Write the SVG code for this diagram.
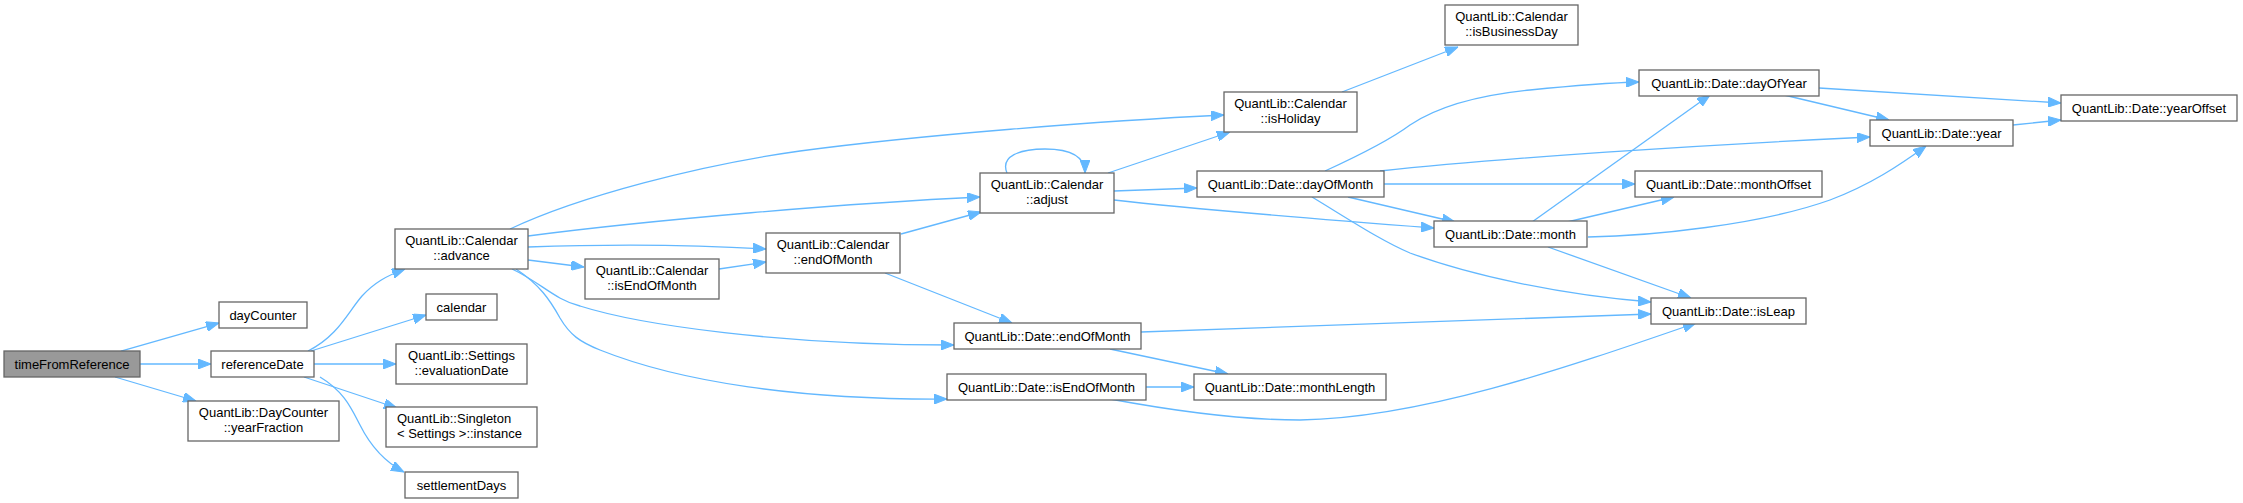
<svg xmlns="http://www.w3.org/2000/svg" width="2243" height="503" viewBox="0 0 2243 503">
<style>
.n rect{fill:#ffffff;stroke:#666666;stroke-width:1.3}
.root rect{fill:#999999}
.n text{font-family:"Liberation Sans",Arial,sans-serif;font-size:13px;fill:#000000;text-anchor:middle}
.n text.l{text-anchor:start}
#edges path{fill:none;stroke:#63b8ff;stroke-width:1.3;marker-end:url(#ah)}
</style>
<defs>
<marker id="ah" markerUnits="userSpaceOnUse" markerWidth="13" markerHeight="10" viewBox="0 0 13 10" refX="13" refY="5" orient="auto">
<path d="M0,0 L13,5 L0,10 z" fill="#63b8ff" stroke="#63b8ff" stroke-width="1"/>
</marker>
</defs>
<rect width="2243" height="503" fill="#ffffff"/>
<g id="edges">
<path d="M121,351 L219,323"/>
<path d="M140,364 L211,364"/>
<path d="M115,377 L196,401"/>
<path d="M308,351 C338,336 348,312 362,296 C374,283 386,276 405,269"/>
<path d="M311,351 L426,315"/>
<path d="M314,364 L396,364"/>
<path d="M304,377 L397,408"/>
<path d="M320,377 C345,392 352,410 360,425 C370,445 385,462 404,472"/>
<path d="M510,229 C580,196 700,165 800,151 C920,135 1100,121 1224,115"/>
<path d="M528,236 C650,220 850,203 980,197"/>
<path d="M528,247 C610,244 700,245 766,249"/>
<path d="M528,260 L584,267"/>
<path d="M719,269 L766,262"/>
<path d="M901,234 L981,212"/>
<path d="M512,269 C540,282 555,300 580,306 C640,325 780,345 954,345"/>
<path d="M516,269 C540,285 550,300 560,318 C570,335 580,342 600,350 C680,382 800,400 947,399"/>
<path d="M885,273 L1012,323"/>
<path d="M1110,349 L1228,374"/>
<path d="M1146,387 L1194,387"/>
<path d="M1141,332 L1651,314"/>
<path d="M1110,399 C1180,412 1240,420 1300,420 C1420,418 1560,370 1696,323"/>
<path d="M1007,173 C1000,156 1020,149 1045,149 C1070,149 1085,156 1085,173"/>
<path d="M1108,173 L1230,132"/>
<path d="M1114,191 L1197,188"/>
<path d="M1114,200 C1200,210 1330,220 1434,228"/>
<path d="M1342,92 L1458,47"/>
<path d="M1325,171 C1360,155 1390,140 1410,125 C1440,105 1480,95 1530,90 C1570,86 1600,83 1639,82"/>
<path d="M1380,171 C1500,158 1700,145 1870,137"/>
<path d="M1384,184 L1635,184"/>
<path d="M1348,197 L1455,222"/>
<path d="M1312,197 C1350,220 1380,240 1410,253 C1470,275 1560,295 1651,302"/>
<path d="M1532,222 L1710,95"/>
<path d="M1567,222 L1674,197"/>
<path d="M1588,237 C1650,236 1760,225 1830,200 C1870,185 1900,165 1926,146"/>
<path d="M1548,247 L1691,298"/>
<path d="M1819,88 L2061,103"/>
<path d="M1784,95 L1889,120"/>
<path d="M2013,125 L2061,120"/>
</g>
<g id="n_timeFromReference" class="n root"><rect x="4" y="351" width="136" height="26"/><text x="72" y="368.5">timeFromReference</text></g>
<g id="n_dayCounter" class="n"><rect x="219" y="302" width="88" height="26"/><text x="263" y="319.5">dayCounter</text></g>
<g id="n_referenceDate" class="n"><rect x="211" y="351" width="103" height="26"/><text x="262.5" y="368.5">referenceDate</text></g>
<g id="n_yearFraction" class="n"><rect x="188" y="401" width="151" height="40"/><text x="263.5" y="417">QuantLib::DayCounter</text><text x="263.5" y="432">::yearFraction</text></g>
<g id="n_advance" class="n"><rect x="395" y="229" width="133" height="40"/><text x="461.5" y="245">QuantLib::Calendar</text><text x="461.5" y="260">::advance</text></g>
<g id="n_calendar" class="n"><rect x="426" y="294" width="71" height="26"/><text x="461.5" y="311.5">calendar</text></g>
<g id="n_evaluationDate" class="n"><rect x="396" y="344" width="131" height="40"/><text x="461.5" y="360">QuantLib::Settings</text><text x="461.5" y="375">::evaluationDate</text></g>
<g id="n_instance" class="n"><rect x="386" y="407" width="151" height="40"/><text class="l" x="397" y="423">QuantLib::Singleton</text><text class="l" x="397" y="438">&lt; Settings &gt;::instance</text></g>
<g id="n_settlementDays" class="n"><rect x="405" y="472" width="113" height="26"/><text x="461.5" y="489.5">settlementDays</text></g>
<g id="n_calIsEndOfMonth" class="n"><rect x="585" y="259" width="134" height="40"/><text x="652" y="275">QuantLib::Calendar</text><text x="652" y="290">::isEndOfMonth</text></g>
<g id="n_calEndOfMonth" class="n"><rect x="766" y="233" width="134" height="40"/><text x="833" y="249">QuantLib::Calendar</text><text x="833" y="264">::endOfMonth</text></g>
<g id="n_adjust" class="n"><rect x="980" y="173" width="134" height="40"/><text x="1047" y="189">QuantLib::Calendar</text><text x="1047" y="204">::adjust</text></g>
<g id="n_dateEndOfMonth" class="n"><rect x="954" y="323" width="187" height="26"/><text x="1047.5" y="340.5">QuantLib::Date::endOfMonth</text></g>
<g id="n_dateIsEndOfMonth" class="n"><rect x="947" y="374" width="199" height="26"/><text x="1046.5" y="391.5">QuantLib::Date::isEndOfMonth</text></g>
<g id="n_isHoliday" class="n"><rect x="1224" y="92" width="133" height="40"/><text x="1290.5" y="108">QuantLib::Calendar</text><text x="1290.5" y="123">::isHoliday</text></g>
<g id="n_dayOfMonth" class="n"><rect x="1197" y="171" width="187" height="26"/><text x="1290.5" y="188.5">QuantLib::Date::dayOfMonth</text></g>
<g id="n_monthLength" class="n"><rect x="1194" y="374" width="192" height="26"/><text x="1290" y="391.5">QuantLib::Date::monthLength</text></g>
<g id="n_isBusinessDay" class="n"><rect x="1445" y="5" width="133" height="40"/><text x="1511.5" y="21">QuantLib::Calendar</text><text x="1511.5" y="36">::isBusinessDay</text></g>
<g id="n_month" class="n"><rect x="1434" y="221" width="153" height="26"/><text x="1510.5" y="238.5">QuantLib::Date::month</text></g>
<g id="n_dayOfYear" class="n"><rect x="1639" y="70" width="180" height="26"/><text x="1729" y="87.5">QuantLib::Date::dayOfYear</text></g>
<g id="n_monthOffset" class="n"><rect x="1635" y="171" width="187" height="26"/><text x="1728.5" y="188.5">QuantLib::Date::monthOffset</text></g>
<g id="n_isLeap" class="n"><rect x="1651" y="298" width="155" height="26"/><text x="1728.5" y="315.5">QuantLib::Date::isLeap</text></g>
<g id="n_year" class="n"><rect x="1870" y="120" width="143" height="26"/><text x="1941.5" y="137.5">QuantLib::Date::year</text></g>
<g id="n_yearOffset" class="n"><rect x="2061" y="95" width="176" height="26"/><text x="2149" y="112.5">QuantLib::Date::yearOffset</text></g>
</svg>
